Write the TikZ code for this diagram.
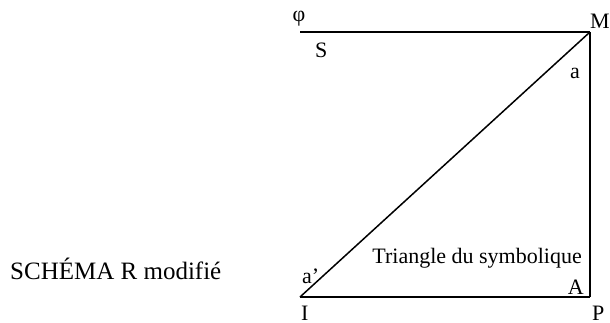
\documentclass[tikz,border=0pt]{standalone}
\usepackage{fontspec}
\setmainfont{Liberation Serif}
\begin{document}
\begin{tikzpicture}[x=1pt,y=-1pt,
  edge/.style={line width=1.5pt, line join=miter},
  lbl/.style={inner sep=0pt, font=\fontsize{22}{26}\selectfont},
  title/.style={inner sep=0pt, font=\fontsize{25}{30}\selectfont}]
\useasboundingbox (0,0) rectangle (610,322);
\coordinate (phi0) at (300,32);
\coordinate (M) at (590,32);
\coordinate (I) at (300,297);
\coordinate (P) at (590,297);
\draw[edge] (phi0) -- (M);
\draw[edge] (M) -- (P);
\draw[edge] (P) -- (I);
\draw[edge] (I) -- (M);
\node[lbl, anchor=center] (lphi) at (299,19) {φ};
\node[lbl, anchor=base west] (lM) at (590,28) {M};
\node[lbl, anchor=base west] (lS) at (315,57) {S};
\node[lbl, anchor=base west] (la) at (570,78) {a};
\node[lbl, anchor=base east] (ltri) at (582,263) {Triangle du symbolique};
\node[lbl, anchor=base east] (lA) at (584,294) {A};
\node[lbl, anchor=base west] (lap) at (302,283) {a’};
\node[lbl, anchor=base west, text depth=0pt] (lI) at (301,320) {I};
\node[lbl, anchor=base west, text depth=0pt] (lP) at (592,320) {P};
\node[title, anchor=base west] (ttl) at (10,279) {SCHÉMA R modifié};
\end{tikzpicture}
\end{document}
